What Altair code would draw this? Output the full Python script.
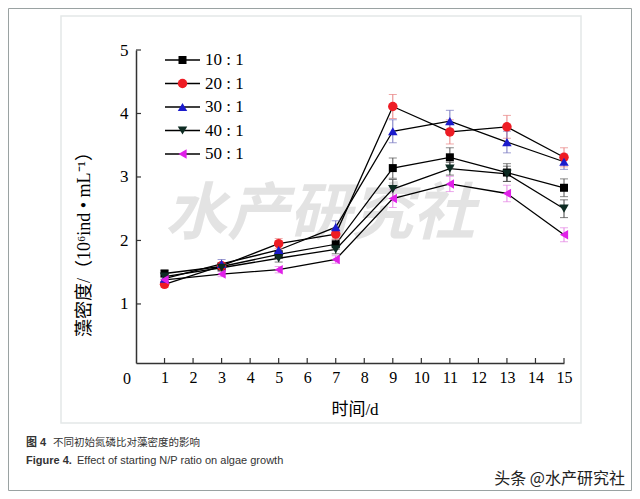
import altair as alt
import pandas as pd

days = [1, 3, 5, 7, 9, 11, 13, 15]
labels = ["10 : 1", "20 : 1", "30 : 1", "40 : 1", "50 : 1"]
r10 = [1.48, 1.59, 1.78, 1.94, 3.14, 3.31, 3.07, 2.83]
r20 = [1.31, 1.60, 1.95, 2.10, 4.11, 3.71, 3.79, 3.31]
r30 = [1.40, 1.63, 1.85, 2.21, 3.72, 3.88, 3.55, 3.24]
r40 = [1.43, 1.57, 1.72, 1.86, 2.81, 3.13, 3.05, 2.50]
r50 = [1.38, 1.47, 1.54, 1.70, 2.66, 2.89, 2.74, 2.09]
e10 = [0.05, 0.05, 0.06, 0.08, 0.16, 0.15, 0.14, 0.14]
e20 = [0.05, 0.05, 0.08, 0.08, 0.19, 0.19, 0.18, 0.15]
e30 = [0.05, 0.07, 0.07, 0.10, 0.18, 0.17, 0.17, 0.12]
e40 = [0.04, 0.05, 0.06, 0.07, 0.15, 0.10, 0.12, 0.14]
e50 = [0.04, 0.04, 0.05, 0.06, 0.14, 0.12, 0.13, 0.11]
shapes = ["square", "circle", "triangle-up", "triangle-down", "triangle-left"]
colors = ["#000000", "#ee1c24", "#1b1bcc", "#0d2b22", "#e020e8"]
err_colors = ["#555555", "#e88080", "#7474bf", "#444444", "#e482e4"]
sizes = [64, 90, 90, 90, 90]
x_ticks = list(range(1, 16))
y_ticks = [1, 2, 3, 4, 5]

SERIF = "Liberation Serif, Noto Sans CJK SC, serif"
SANS = "Liberation Sans, Noto Sans CJK SC, sans-serif"

rows = []
for i, (vals, errs) in enumerate(zip([r10, r20, r30, r40, r50], [e10, e20, e30, e40, e50])):
    for d, v, e in zip(days, vals, errs):
        rows.append({"series": labels[i], "day": d, "v": v, "lo": v - e, "hi": v + e,
                     "shape": shapes[i], "color": colors[i], "ecolor": err_colors[i],
                     "size": sizes[i], "order": i})
df = pd.DataFrame(rows)
leg = pd.DataFrame({"series": labels, "idx": list(range(len(labels))),
                    "shape": shapes, "color": colors, "size": sizes})

W, H = 428, 313
xs = alt.Scale(domain=[0, 15], nice=False, zero=False)
ys = alt.Scale(domain=[0.07, 5], nice=False, zero=False)
AX = alt.Axis(values=x_ticks, title=None, ticks=False, grid=False, format="d",
              labelFont=SERIF, labelFontSize=16, labelColor="black",
              labelPadding=6, domainColor="#333", domainWidth=1.5,
              labelFlush=False, labelOverlap=False, labelBound=False)
AY = alt.Axis(values=y_ticks, title=None, ticks=False, grid=False, format="d",
              labelFont=SERIF, labelFontSize=17, labelColor="black",
              labelPadding=8, domainColor="#333", domainWidth=1.5,
              labelOverlap=False)
XQ = lambda f: alt.X(f, scale=xs, axis=AX)
YQ = lambda f: alt.Y(f, scale=ys, axis=AY)

base = alt.Chart(df)

lines = base.mark_line(color="black", strokeWidth=1.3).encode(
    x=XQ("day:Q"), y=YQ("v:Q"), detail="series:N", order="day:Q")

err = base.mark_rule(strokeWidth=1).encode(
    x=XQ("day:Q"), y=YQ("lo:Q"), y2="hi:Q", color=alt.Color("ecolor:N", scale=None))
cap_hi = base.mark_tick(orient="horizontal", size=8, thickness=1).encode(
    x=XQ("day:Q"), y=YQ("hi:Q"), color=alt.Color("ecolor:N", scale=None))
cap_lo = base.mark_tick(orient="horizontal", size=8, thickness=1).encode(
    x=XQ("day:Q"), y=YQ("lo:Q"), color=alt.Color("ecolor:N", scale=None))

pts = base.mark_point(filled=True, opacity=1).encode(
    x=XQ("day:Q"), y=YQ("v:Q"),
    shape=alt.Shape("shape:N", scale=None),
    color=alt.Color("color:N", scale=None),
    size=alt.Size("size:Q", scale=None),
)

xt = alt.Chart(pd.DataFrame({"t": x_ticks})).mark_rule(color="#333", strokeWidth=1.2).encode(
    x=XQ("t:Q"), y=alt.value(H), y2=alt.value(H - 5))
yt = alt.Chart(pd.DataFrame({"t": y_ticks})).mark_rule(color="#333", strokeWidth=1.2).encode(
    y=YQ("t:Q"), x=alt.value(0), x2=alt.value(5))

zero = alt.Chart(pd.DataFrame({"t": [0], "lab": ["0"]})).mark_text(
    font=SERIF, fontSize=16, color="black", baseline="top", dx=-9, dy=0).encode(
    x=XQ("t:Q"), y=alt.value(H + 8), text="lab:N")

one = pd.DataFrame({"a": [0]})


def txt(s, x, y, **kw):
    return alt.Chart(one).mark_text(text=s, **kw).encode(x=alt.value(x), y=alt.value(y))


def box(x1, x2, y1, y2, color, sw=1):
    return alt.Chart(one).mark_rect(fill=None, stroke=color, strokeWidth=sw).encode(
        x=alt.value(x1), x2=alt.value(x2), y=alt.value(y1), y2=alt.value(y2))


outer = box(-127.5, 495.5, -41.5, 440.5, "#9aa2a2", 1)
inner = box(-75, 445, -34, 373, "#e4e8e8", 1.5)
wm = txt("水产研究社", 184, 165, font="Noto Sans CJK SC", fontSize=62, fontWeight="bold",
         color="#e3e3e3", fontStyle="italic", align="center", baseline="middle")
xtitle = txt("时间/d", 219, 360, font=SERIF, fontSize=17, color="black",
             align="center", baseline="middle")
ytitle = txt("藻密度/（10⁶ind • mL⁻¹）", -51, 190, font=SERIF, fontSize=18, color="black",
             align="center", baseline="middle", angle=270)
cap1a = txt("图 4", -110, 393, font=SANS, fontSize=11, fontWeight="bold", color="#333",
            align="left", baseline="middle")
cap1b = txt("不同初始氮磷比对藻密度的影响", -83, 393, font=SANS, fontSize=10.5, color="#333",
            align="left", baseline="middle")
cap2a = txt("Figure  4.", -110, 411, font=SANS, fontSize=11, fontWeight="bold", color="#333",
            align="left", baseline="middle")
cap2b = txt("Effect of starting N/P ratio on algae growth", -59, 411, font=SANS, fontSize=11,
            color="#333", align="left", baseline="middle")
mark = txt("头条 @水产研究社", 489, 429, font="Noto Sans CJK SC", fontSize=16, color="#222",
           align="right", baseline="middle")

main = alt.layer(outer, inner, wm, lines, err, cap_hi, cap_lo, pts, xt, yt, zero,
                 xtitle, ytitle, cap1a, cap1b, cap2a, cap2b, mark)

ly = alt.Y("idx:Q", scale=alt.Scale(domain=[0, len(labels) - 1], range=[10, 104],
                                     nice=False, zero=False), axis=None)
lb = alt.Chart(leg)
leg_line = lb.mark_rule(color="black", strokeWidth=1.3).encode(
    y=ly, x=alt.value(29), x2=alt.value(64))
leg_pt = lb.mark_point(filled=True, opacity=1).encode(
    y=ly, x=alt.value(46.5),
    shape=alt.Shape("shape:N", scale=None),
    color=alt.Color("color:N", scale=None),
    size=alt.Size("size:Q", scale=None))
leg_txt = lb.mark_text(font=SERIF, fontSize=17, color="black", align="left",
                       baseline="middle").encode(y=ly, x=alt.value(69), text="series:N")
legend = alt.layer(leg_line, leg_pt, leg_txt)

chart = alt.layer(main, legend).resolve_scale(y="independent").properties(
    width=W, height=H,
    autosize=alt.AutoSizeParams(type="none"),
    padding={"left": 128, "top": 42, "right": 68, "bottom": 128},
    background="white",
).configure_view(stroke=None).configure_axis(labelOverlap=False)

chart.save("out.html", embed_options={"renderer": "svg", "actions": False})
